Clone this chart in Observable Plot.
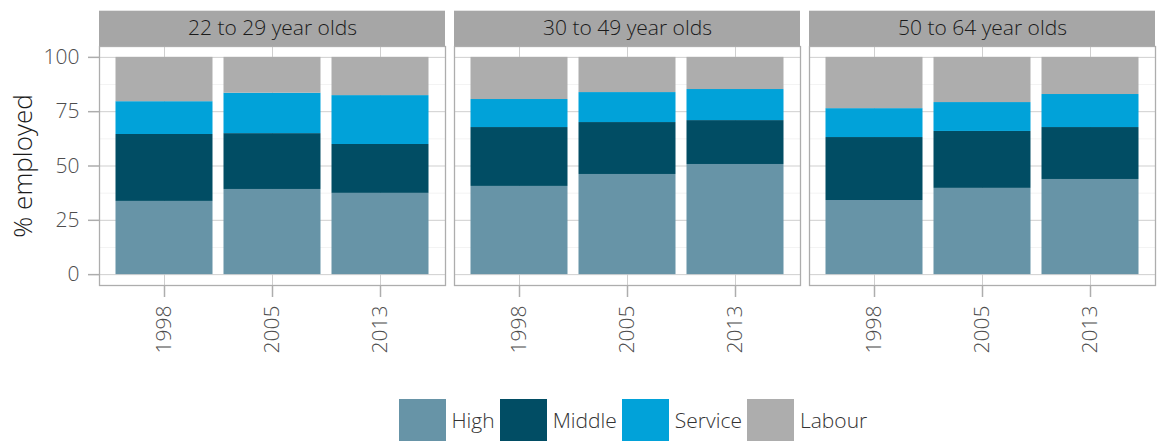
<!DOCTYPE html>
<html><head><meta charset="utf-8">
<script src="https://cdn.jsdelivr.net/npm/d3@7"></script>
<script src="https://cdn.jsdelivr.net/npm/@observablehq/plot@0.6"></script>
<style>
body{margin:0;background:#fff;font-family:"Open Sans",sans-serif;}
#legend{display:flex;align-items:center;margin-left:399px;margin-top:4px;height:42px;font-size:21px;font-weight:300;color:#333;}
.item{display:flex;align-items:center;margin-right:5.5px}
.sw{width:47px;height:42px;margin-right:5.5px}
</style></head><body>
<div id="chart"></div>
<div id="legend"></div>
<script>
const ageGroups = ["22 to 29 year olds", "30 to 49 year olds", "50 to 64 year olds"];
const years = ["1998", "2005", "2013"];
const skills = ["High", "Middle", "Service", "Labour"];
const colors = ["#6794a7", "#014d64", "#01a2d9", "#adadad"];
const yTicks = [0, 25, 50, 75, 100];
const yMinorTicks = [12.5, 37.5, 62.5, 87.5];
// rows: age group; columns: year
const high    = [[33.7, 39.2, 37.4], [40.6, 46.1, 50.7], [34.1, 39.7, 43.8]];
const middle  = [[30.8, 25.7, 22.5], [27.1, 23.9, 20.2], [29.0, 26.2, 23.9]];
const service = [[15.1, 18.6, 22.5], [12.9, 13.8, 14.3], [13.3, 13.3, 15.2]];
const labour  = [[20.4, 16.5, 17.6], [19.4, 16.2, 14.8], [23.6, 20.8, 17.1]];
const seriesValues = [high, middle, service, labour];

const data = [];
ageGroups.forEach((age, ai) => years.forEach((year, yi) => skills.forEach((skill, si) => {
  data.push({age, year, skill, value: seriesValues[si][ai][yi]});
})));

const marginTop = 46, stripHeight = 35.3;
const grid = "#cfcfcf", border = "#adadad";

const chart = Plot.plot({
  width: 1157, height: 395,
  marginLeft: 98.5, marginRight: 1, marginTop, marginBottom: 110,
  style: {fontFamily: '"Open Sans", sans-serif', fontSize: "21px", fontWeight: 300, background: "#fff", overflow: "visible"},
  fx: {domain: ageGroups, paddingInner: 0.025, paddingOuter: 0, axis: null},
  x: {domain: years, paddingInner: 0.1, paddingOuter: 0.15, axis: null},
  y: {domain: [-5, 105], axis: null},
  color: {domain: skills, range: colors},
  marks: [
    Plot.gridY({ticks: yMinorTicks, stroke: "#f3f3f3", strokeOpacity: 1}),
    Plot.gridY({ticks: yTicks, stroke: grid, strokeOpacity: 1}),
    Plot.gridX({stroke: grid, strokeOpacity: 1}),
    Plot.barY(data, {fx: "age", x: "year", y: "value", fill: "skill", inset: 0}),
    Plot.frame({stroke: border, strokeWidth: 1.3}),
    Plot.axisY({ticks: yTicks, tickSize: 11, tickPadding: 9, stroke: border, strokeWidth: 1.5, fill: "#4d4d4d",
      label: "% employed", labelAnchor: "center", labelArrow: "none", labelOffset: 86}),
    Plot.axisX({tickSize: 12, tickPadding: 8, tickRotate: -90, stroke: border, strokeWidth: 1.5, fill: "#4d4d4d", label: null}),
    Plot.axisFx({anchor: "top", tickSize: 0, tickPadding: 18, lineAnchor: "middle", fill: "#1a1a1a", label: null})
  ]
});

// facet strip backgrounds, positioned from the fx scale
const fx = chart.scale("fx");
const svg = d3.select(chart);
const strips = svg.insert("g", "g").attr("aria-label", "strips");
ageGroups.forEach(a => strips.append("rect")
  .attr("x", fx.apply(a)).attr("y", marginTop - stripHeight)
  .attr("width", fx.bandwidth).attr("height", stripHeight)
  .attr("fill", "#a6a6a6"));
svg.selectAll('g[aria-label="y-axis label"]').attr("font-size", 26).attr("fill", "#1a1a1a");

document.getElementById("chart").appendChild(chart);

// legend from the color scale
const color = chart.scale("color");
const legend = d3.select("#legend");
color.domain.forEach((d, i) => {
  const it = legend.append("div").attr("class", "item");
  it.append("div").attr("class", "sw").style("background", color.range[i]);
  it.append("span").text(d);
});
</script>
</body></html>
